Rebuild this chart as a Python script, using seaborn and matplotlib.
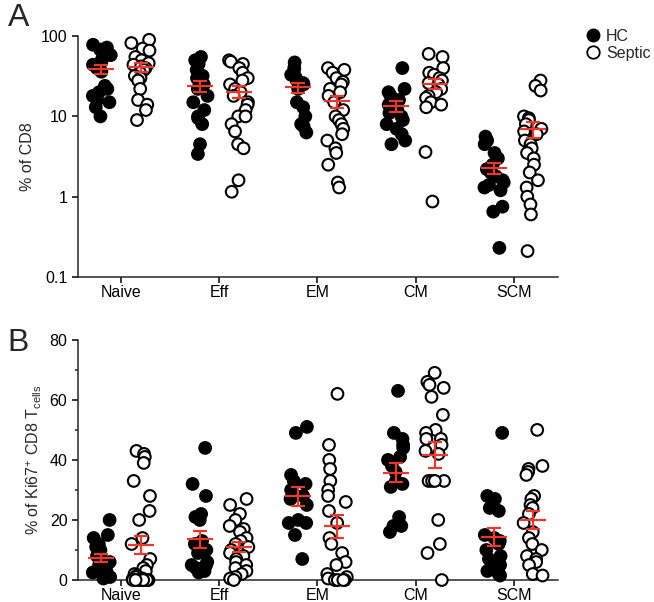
import warnings
import numpy as np
import pandas as pd
import seaborn as sns
import matplotlib.pyplot as plt
from matplotlib.lines import Line2D
from matplotlib.ticker import FixedLocator, MultipleLocator, NullLocator

warnings.filterwarnings('ignore')
np.random.seed(7)

subsets = ['Naive', 'Eff', 'EM', 'CM', 'SCM']
groups = ['HC', 'Septic']

# panel A: % of CD8
cd8_hc = {
    'Naive': [78, 72, 68, 62, 58, 52, 48, 44, 40, 36, 24, 22, 20, 18, 16, 15, 13, 10],
    'Eff': [55, 50, 45, 38, 32, 30, 28, 25, 22, 18, 15, 12, 10, 9.5, 8, 4.5, 3.4],
    'EM': [47, 40, 36, 33, 30, 28, 26, 25, 22, 15, 13, 10, 8, 7.5, 6.3],
    'CM': [40, 22, 20, 18, 16, 14, 13, 12, 11, 10, 9, 8, 7, 6, 5, 4.5],
    'SCM': [5.6, 5, 4.5, 3.5, 3, 2.5, 2.2, 2, 1.8, 1.6, 1.5, 1.4, 1.3, 1.2, 0.75, 0.65, 0.23],
}
cd8_septic = {
    'Naive': [90, 82, 70, 66, 55, 50, 46, 44, 42, 40, 38, 35, 32, 30, 28, 22, 16, 14, 12, 9],
    'Eff': [50, 48, 45, 40, 35, 30, 28, 25, 22, 20, 18, 15, 14, 12, 10, 10, 8, 6.5, 4.5, 4, 1.6, 1.15],
    'EM': [40, 38, 35, 30, 27, 25, 22, 20, 18, 15, 12, 10, 9, 8, 7, 6, 5, 4, 3.5, 2.5, 1.5, 1.3],
    'CM': [60, 55, 40, 35, 33, 30, 28, 26, 25, 22, 20, 18, 17, 15, 14, 13, 3.6, 0.87],
    'SCM': [28, 24, 21, 10, 9.5, 9, 8, 7, 6.5, 6, 5, 4.5, 4, 3.5, 3, 2.5, 2, 1.6, 1.3, 1.0, 0.8, 0.6, 0.21],
}

# panel B: % of Ki67+ CD8 T cells
ki67_hc = {
    'Naive': [20, 15, 14, 12, 11, 10, 8, 7, 6, 5, 4, 3.5, 3, 2.5, 2, 1, 0.5],
    'Eff': [44, 32, 28, 22, 21, 20, 13, 12, 10, 9, 6, 5, 5, 4, 4, 3, 3, 2.5],
    'EM': [51, 49, 35, 33, 32, 30, 28, 27, 25, 20, 19, 19, 15, 7],
    'CM': [63, 49, 47, 45, 44, 41, 40, 38, 36, 33, 32, 31, 21, 18, 18, 16],
    'SCM': [49, 28, 27, 24, 23, 15, 14, 13, 12, 10, 8, 7, 5, 4, 3, 2, 1.5],
}
ki67_septic = {
    'Naive': [43, 42, 41, 39, 33, 28, 23, 20, 14, 12, 7, 5, 4, 3, 2, 1.5, 1, 0.5, 0.3,
              0, 0, 0, 0, 0, 0, 0, 0],
    'Eff': [27, 25, 22, 20, 18, 17, 16, 14, 13, 12, 11, 10, 9, 8, 7, 6, 5, 4, 3, 2, 1, 0.5, 0],
    'EM': [62, 45, 40, 37, 33, 30, 28, 26, 23, 19, 14, 12, 9, 6, 5, 2, 1, 0.5, 0, 0, 0, 0],
    'CM': [69, 66, 65, 64, 61, 55, 50, 49, 47, 47, 45, 43, 42, 33, 33, 33, 33, 20, 12, 9, 0],
    'SCM': [50, 38, 37, 36, 35, 28, 27, 25, 24, 22, 19, 16, 14, 12, 10, 8, 7, 6, 5, 2, 1.5],
}

red = '#e8392c'


def to_frame(hc, septic):
    rows = []
    for grp, d in zip(groups, [hc, septic]):
        for s in subsets:
            for v in d[s]:
                rows.append({'subset': s, 'group': grp, 'value': v})
    return pd.DataFrame(rows)


def draw_panel(ax, df):
    sns.stripplot(data=df, x='subset', y='value', hue='group', order=subsets,
                  hue_order=groups, dodge=True, jitter=0.2,
                  palette={'HC': 'black', 'Septic': 'white'},
                  edgecolor='black', linewidth=1.5, size=8.4, legend=False, ax=ax)
    for c in ax.collections:
        c.set_clip_on(False)
    # mean +/- SEM (arithmetic)
    stats = df.groupby(['subset', 'group'])['value'].agg(['mean', 'sem'])
    for i, s in enumerate(subsets):
        for j, g in enumerate(groups):
            m, e = stats.loc[(s, g)]
            ax.errorbar(i - 0.2 + 0.4 * j, m, yerr=e, fmt='_', ms=19, mew=1.6,
                        color=red, ecolor=red, elinewidth=1.6, capsize=5,
                        capthick=1.6, zorder=5)
    ax.set_xlim(-0.44, 4.45)
    ax.set_xlabel('')
    sns.despine(ax=ax)
    ax.tick_params(axis='both', direction='out', length=4, width=1.1,
                   labelsize=11.5, colors='black')
    ax.tick_params(axis='x', pad=2)
    ax.tick_params(axis='y', which='minor', direction='out', length=2.5, width=1.1)
    for sp in ax.spines.values():
        sp.set_linewidth(1.1)


sns.set_style('ticks')
plt.rcParams['font.family'] = ['Liberation Sans', 'DejaVu Sans']
plt.rcParams['mathtext.fontset'] = 'custom'
plt.rcParams['mathtext.rm'] = 'Liberation Sans'
plt.rcParams['mathtext.it'] = 'Liberation Sans:italic'

fig = plt.figure(figsize=(6.54, 6.02), dpi=100)
axA = fig.add_axes([0.119, 0.540, 0.734, 0.400])
axB = fig.add_axes([0.119, 0.0365, 0.734, 0.399])

axA.set_yscale('log')
draw_panel(axA, to_frame(cd8_hc, cd8_septic))
axA.set_ylim(0.1, 100)
axA.yaxis.set_major_locator(FixedLocator([0.1, 1, 10, 100]))
axA.yaxis.set_minor_locator(NullLocator())
axA.set_yticklabels(['0.1', '1', '10', '100'])
axA.set_ylabel('% of CD8', fontsize=11.5)

draw_panel(axB, to_frame(ki67_hc, ki67_septic))
axB.set_ylim(0, 80)
axB.yaxis.set_major_locator(MultipleLocator(20))
axB.yaxis.set_minor_locator(MultipleLocator(10))
axB.set_ylabel(r'% of Ki67$^{+}$ CD8 T$_{\mathrm{cells}}$', fontsize=11.5)

fig.text(0.012, 0.995, 'A', fontsize=23, va='top', ha='left')
fig.text(0.012, 0.455, 'B', fontsize=23, va='top', ha='left')

handles = [
    Line2D([], [], marker='o', ls='none', mfc='black', mec='black', ms=9, label='HC'),
    Line2D([], [], marker='o', ls='none', mfc='white', mec='black', mew=1.3, ms=9,
           label='Septic'),
]
fig.legend(handles=handles, loc='upper left', bbox_to_anchor=(0.885, 0.965),
           frameon=False, fontsize=11.5, handlelength=0.8, handletextpad=0.4,
           labelspacing=0.1, borderpad=0)

fig.savefig('out.png', dpi=100)
